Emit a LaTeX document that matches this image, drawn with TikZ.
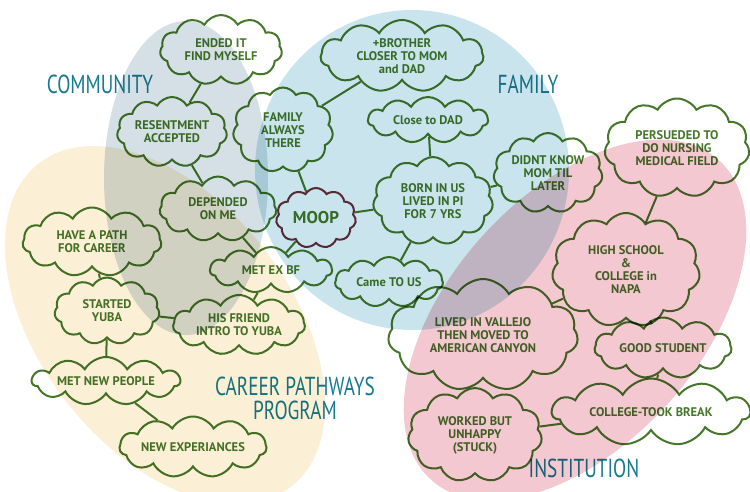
\documentclass[tikz,border=0pt]{standalone}
\usepackage{fontspec}
\setmainfont{PT Sans}
\newfontfamily\handfont{PT Sans}
\newfontfamily\regionfont[FakeStretch=0.74]{PT Sans}
\usetikzlibrary{shapes.symbols}

\definecolor{leaf}{HTML}{45772A}
\definecolor{teal}{HTML}{17798E}
\definecolor{commblue}{HTML}{D5E0E6}
\definecolor{famblue}{HTML}{C9E4ED}
\definecolor{careercream}{HTML}{FBEFD6}
\definecolor{instpink}{HTML}{F3C8D0}
\definecolor{moopred}{HTML}{6E3038}

\tikzset{
  thought/.style={cloud, cloud puffs=11, cloud puff arc=120, cloud ignores aspect,
    draw=leaf, line width=2pt, text=leaf, align=center, inner sep=0pt,
    font=\handfont\bfseries\fontsize{12.5}{13}\selectfont},
  link/.style={draw=leaf, line width=2pt},
  region/.style={text=teal, align=center, font=\regionfont\fontsize{26}{24}\selectfont}
}

\begin{document}
\begin{tikzpicture}[x=1pt, y=-1pt]
  \useasboundingbox (0,0) rectangle (750,491);

  \begin{scope}[blend mode=multiply]
    % the four areas
    \fill[famblue] (412,170) ellipse [x radius=157pt, y radius=160pt];
    \fill[commblue] (186,178) ellipse [x radius=82pt, y radius=157pt];
    \fill[careercream, rotate around={-52:(165,325)}] (165,325) ellipse [x radius=205pt, y radius=125pt];
    \fill[instpink, rotate around={48:(575,320)}] (575,320) ellipse [x radius=215pt, y radius=125pt];

    \node[region] (community) at (100,84) {COMMUNITY};
    \node[region] (family) at (528,84) {FAMILY};
    \node[region] (career) at (295,398) {CAREER PATHWAYS\\PROGRAM};
    \node[region] (institution) at (584,468) {INSTITUTION};

    % clouds
    \node[thought, minimum width=122, minimum height=70] (findself) at (221,50) {ENDED IT\\FIND MYSELF};
    \node[thought, minimum width=163, minimum height=72] (brother) at (402,56) {+BROTHER\\CLOSER TO MOM\\and DAD};
    \node[thought, minimum width=110, minimum height=70] (resent) at (172,132) {RESENTMENT\\ACCEPTED};
    \node[thought, minimum width=100, minimum height=85] (always) at (283,130) {FAMILY\\ALWAYS\\THERE};
    \node[thought, minimum width=120, minimum height=46] (closedad) at (428,120) {Close to DAD};
    \node[thought, minimum width=109, minimum height=80] (didnt) at (548,173) {DIDNT KNOW\\MOM TIL\\LATER};
    \node[thought, minimum width=145, minimum height=99] (persued) at (677,148) {PERSUEDED TO\\DO NURSING\\MEDICAL FIELD};
    \node[thought, minimum width=117, minimum height=65] (depended) at (218,209) {DEPENDED\\ON ME};
    \node[thought, draw=moopred, minimum width=80, minimum height=60] (moop) at (316,218) {\fontsize{17}{17}\selectfont MOOP};
    \node[thought, minimum width=120, minimum height=88] (born) at (433,201) {BORN IN US\\LIVED IN PI\\FOR 7 YRS};
    \node[thought, minimum width=139, minimum height=69] (path) at (92,242) {HAVE A PATH\\FOR CAREER};
    \node[thought, minimum width=122, minimum height=46] (metex) at (271,270) {MET EX BF};
    \node[thought, minimum width=108, minimum height=50] (came) at (389,282) {Came TO US};
    \node[thought, minimum width=148, minimum height=114] (highschool) at (626,270) {HIGH SCHOOL\\\&\\COLLEGE in\\NAPA};
    \node[thought, minimum width=105, minimum height=67] (started) at (107,311) {STARTED\\YUBA};
    \node[thought, minimum width=132, minimum height=60] (friend) at (239,325) {HIS FRIEND\\INTRO TO YUBA};
    \node[thought, minimum width=190, minimum height=112] (vallejo) at (483,335) {LIVED IN VALLEJO\\THEN MOVED TO\\AMERICAN CANYON};
    \node[thought, minimum width=137, minimum height=61] (good) at (663,348) {GOOD STUDENT};
    \node[thought, minimum width=148, minimum height=48] (metnew) at (106,381) {MET NEW PEOPLE};
    \node[thought, minimum width=147, minimum height=61] (newexp) at (193,447) {NEW EXPERIANCES};
    \node[thought, minimum width=134, minimum height=94] (worked) at (475,435) {WORKED BUT\\UNHAPPY\\(STUCK)};
    \node[thought, minimum width=198, minimum height=67] (college) at (651,412) {COLLEGE-TOOK BREAK};

    % links
    \draw[link] (findself) -- (resent);
    \draw[link] (resent) -- (depended);
    \draw[link] (depended) -- (metex);
    \draw[link] (always) -- (brother);
    \draw[link] (always) -- (moop);
    \draw[link] (moop) -- (born);
    \draw[link] (moop) -- (metex);
    \draw[link] (closedad) -- (born);
    \draw[link] (born) -- (didnt);
    \draw[link] (born) -- (came);
    \draw[link] (came) -- (vallejo);
    \draw[link] (vallejo) -- (highschool);
    \draw[link] (persued) -- (highschool);
    \draw[link] (highschool) -- (good);
    \draw[link] (good) -- (college);
    \draw[link] (college) -- (worked);
    \draw[link] (metex) -- (friend);
    \draw[link] (friend) -- (started);
    \draw[link] (path) -- (started);
    \draw[link] (started) -- (metnew);
    \draw[link] (metnew) -- (newexp);
  \end{scope}
\end{tikzpicture}
\end{document}
